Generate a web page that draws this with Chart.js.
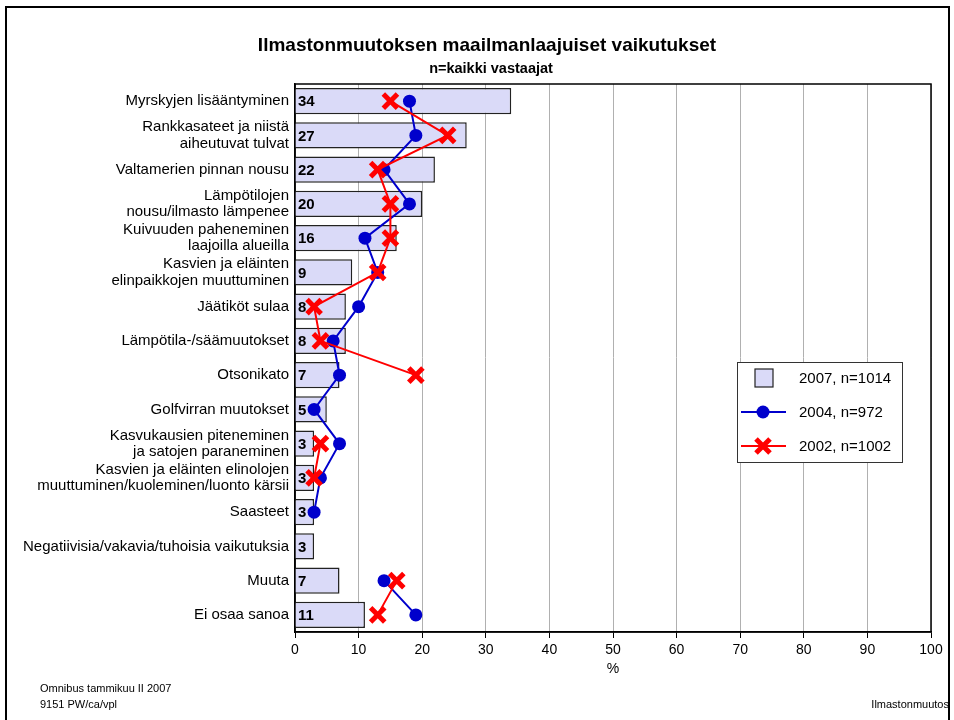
<!DOCTYPE html>
<html>
<head>
<meta charset="utf-8">
<script src="https://cdn.jsdelivr.net/npm/chart.js@4.4.1/dist/chart.umd.min.js"></script>
<style>
  html, body { margin: 0; padding: 0; background: #fff; }
  body { width: 954px; height: 720px; position: relative; overflow: hidden; font-family: "Liberation Sans", Arial, sans-serif; }
  #frame { position: absolute; left: 5px; top: 6px; width: 941px; height: 740px; border: 2px solid #000; }
  #wrap { position: absolute; left: 0; top: 0; width: 954px; height: 720px; }
  .otsikko { position: absolute; left: 87px; width: 800px; text-align: center; font-weight: bold; color: #000; white-space: nowrap; }
  #t1 { top: 33px; font-size: 19px; line-height: 24px; }
  #t2 { top: 60px; font-size: 14.5px; line-height: 17px; left: 91px; }
  .foot { position: absolute; font-size: 11px; color: #000; line-height: 16px; }
  #f1 { left: 40px; top: 680px; }
  #f2 { right: 5px; top: 696px; }
</style>
</head>
<body>
<div id="frame"></div>
<div id="wrap"><canvas id="chart"></canvas></div>
<div class="otsikko" id="t1">Ilmastonmuutoksen maailmanlaajuiset vaikutukset</div>
<div class="otsikko" id="t2">n=kaikki vastaajat</div>
<div class="foot" id="f1">Omnibus tammikuu II 2007<br>9151 PW/ca/vpl</div>
<div class="foot" id="f2">Ilmastonmuutos</div>
<script>
// Tiedot
const kategoriat = [
  'Myrskyjen lisääntyminen',
  ['Rankkasateet ja niistä', 'aiheutuvat tulvat'],
  'Valtamerien pinnan nousu',
  ['Lämpötilojen', 'nousu/ilmasto lämpenee'],
  ['Kuivuuden paheneminen', 'laajoilla alueilla'],
  ['Kasvien ja eläinten', 'elinpaikkojen muuttuminen'],
  'Jäätiköt sulaa',
  'Lämpötila-/säämuutokset',
  'Otsonikato',
  'Golfvirran muutokset',
  ['Kasvukausien piteneminen', 'ja satojen paraneminen'],
  ['Kasvien ja eläinten elinolojen', 'muuttuminen/kuoleminen/luonto kärsii'],
  'Saasteet',
  'Negatiivisia/vakavia/tuhoisia vaikutuksia',
  'Muuta',
  'Ei osaa sanoa'
];
const arvot2007 = [34, 27, 22, 20, 16, 9, 8, 8, 7, 5, 3, 3, 3, 3, 7, 11];
const arvot2004 = [18, 19, 14, 18, 11, 13, 10, 6, 7, 3, 7, 4, 3, null, 14, 19];
const arvot2002 = [15, 24, 13, 15, 15, 13, 3, 4, 19, null, 4, 3, null, null, 16, 13];
const xTicks = [0, 10, 20, 30, 40, 50, 60, 70, 80, 90, 100];

const sarjat = [
  { nimi: '2007, n=1014', tyyppi: 'bar' },
  { nimi: '2004, n=972', tyyppi: 'line', vari: '#0000cc', piste: 'circle' },
  { nimi: '2002, n=1002', tyyppi: 'line', vari: '#ff0000', piste: 'crossRot' }
];

const palkkiVari = '#dadaf8';
const fontti = '"Liberation Sans", Arial, sans-serif';

// Kehys kuva-alueen ympärille
const kehysPlugin = {
  id: 'kehys',
  beforeDatasetsDraw(chart) {
    const a = chart.chartArea;
    const ctx = chart.ctx;
    ctx.save();
    ctx.strokeStyle = '#000';
    ctx.lineWidth = 1.5;
    ctx.strokeRect(a.left, a.top, a.right - a.left, a.bottom - a.top);
    ctx.restore();
  }
};

// Palkkien arvot
const arvoPlugin = {
  id: 'arvot',
  afterDatasetDraw(chart, args) {
    if (args.index !== 0) return;
    const ctx = chart.ctx;
    const meta = chart.getDatasetMeta(0);
    ctx.save();
    ctx.font = 'bold 15px ' + fontti;
    ctx.fillStyle = '#000';
    ctx.textBaseline = 'middle';
    ctx.textAlign = 'left';
    meta.data.forEach((bar, i) => {
      ctx.fillText(String(arvot2007[i]), chart.chartArea.left + 3, bar.y + 1);
    });
    ctx.restore();
  }
};

// Selite kuva-alueen sisällä
const selitePlugin = {
  id: 'selite',
  afterDraw(chart) {
    const ctx = chart.ctx;
    const x = 737, y = 362, w = 165, h = 100;
    ctx.save();
    ctx.fillStyle = '#fff';
    ctx.fillRect(x, y, w, h);
    ctx.strokeStyle = '#333';
    ctx.lineWidth = 1;
    ctx.strokeRect(x + 0.5, y + 0.5, w, h);
    ctx.font = '15px ' + fontti;
    ctx.textBaseline = 'middle';
    const rivit = [378, 412, 446];
    sarjat.forEach((s, i) => {
      const ry = rivit[i];
      if (s.tyyppi === 'bar') {
        ctx.fillStyle = palkkiVari;
        ctx.fillRect(755, ry - 9, 18, 18);
        ctx.strokeStyle = '#222';
        ctx.lineWidth = 1.2;
        ctx.strokeRect(755, ry - 9, 18, 18);
      } else {
        ctx.strokeStyle = s.vari;
        ctx.lineWidth = 2;
        ctx.beginPath();
        ctx.moveTo(741, ry);
        ctx.lineTo(786, ry);
        ctx.stroke();
        if (s.piste === 'circle') {
          ctx.fillStyle = s.vari;
          ctx.beginPath();
          ctx.arc(763, ry, 6.5, 0, Math.PI * 2);
          ctx.fill();
        } else {
          ctx.lineWidth = 5;
          ctx.beginPath();
          ctx.moveTo(756, ry - 7); ctx.lineTo(770, ry + 7);
          ctx.moveTo(770, ry - 7); ctx.lineTo(756, ry + 7);
          ctx.stroke();
        }
      }
      ctx.fillStyle = '#000';
      ctx.textAlign = 'left';
      ctx.fillText(s.nimi, 799, ry + 1);
    });
    ctx.restore();
  }
};

const ctx = document.getElementById('chart').getContext('2d');
new Chart(ctx, {
  type: 'bar',
  data: {
    labels: kategoriat,
    datasets: [
      {
        label: sarjat[0].nimi,
        data: arvot2007,
        backgroundColor: palkkiVari,
        borderColor: '#222',
        borderWidth: 1.5,
        barPercentage: 0.76,
        categoryPercentage: 1,
        order: 3
      },
      {
        type: 'line',
        label: sarjat[1].nimi,
        data: arvot2004,
        borderColor: sarjat[1].vari,
        backgroundColor: sarjat[1].vari,
        borderWidth: 2,
        pointStyle: 'circle',
        pointRadius: 6.5,
        pointBorderWidth: 0,
        pointBackgroundColor: sarjat[1].vari,
        spanGaps: false,
        order: 2
      },
      {
        type: 'line',
        label: sarjat[2].nimi,
        data: arvot2002,
        borderColor: sarjat[2].vari,
        backgroundColor: sarjat[2].vari,
        borderWidth: 2,
        pointStyle: 'crossRot',
        pointRadius: 10,
        pointBorderWidth: 5,
        pointBorderColor: sarjat[2].vari,
        spanGaps: false,
        order: 1
      }
    ]
  },
  options: {
    indexAxis: 'y',
    responsive: true,
    maintainAspectRatio: false,
    animation: false,
    layout: { padding: { left: 16, right: 23, top: 84, bottom: 38 } },
    scales: {
      x: {
        type: 'linear',
        min: 0,
        max: 100,
        afterFit(scale) { scale.height = 50; },
        afterBuildTicks(scale) { scale.ticks = xTicks.map(v => ({ value: v })); },
        ticks: { color: '#000', font: { size: 14, family: fontti }, padding: 4 },
        grid: { color: '#b0b0b0', lineWidth: 1, tickLength: 6, tickColor: '#000' },
        border: { display: true, color: '#000', width: 1.5 },
        title: { display: true, text: '%', color: '#000', font: { size: 14, family: fontti }, padding: { top: 2, bottom: 4 } }
      },
      y: {
        afterFit(scale) { scale.width = 279; },
        ticks: { color: '#000', font: { size: 15, family: fontti, lineHeight: 1.07 }, padding: 6, autoSkip: false },
        grid: { display: false, drawTicks: false, tickLength: 0 },
        border: { display: true, color: '#000', width: 1.5 }
      }
    },
    plugins: {
      legend: { display: false },
      tooltip: { enabled: false }
    }
  },
  plugins: [kehysPlugin, arvoPlugin, selitePlugin]
});
</script>
</body>
</html>
